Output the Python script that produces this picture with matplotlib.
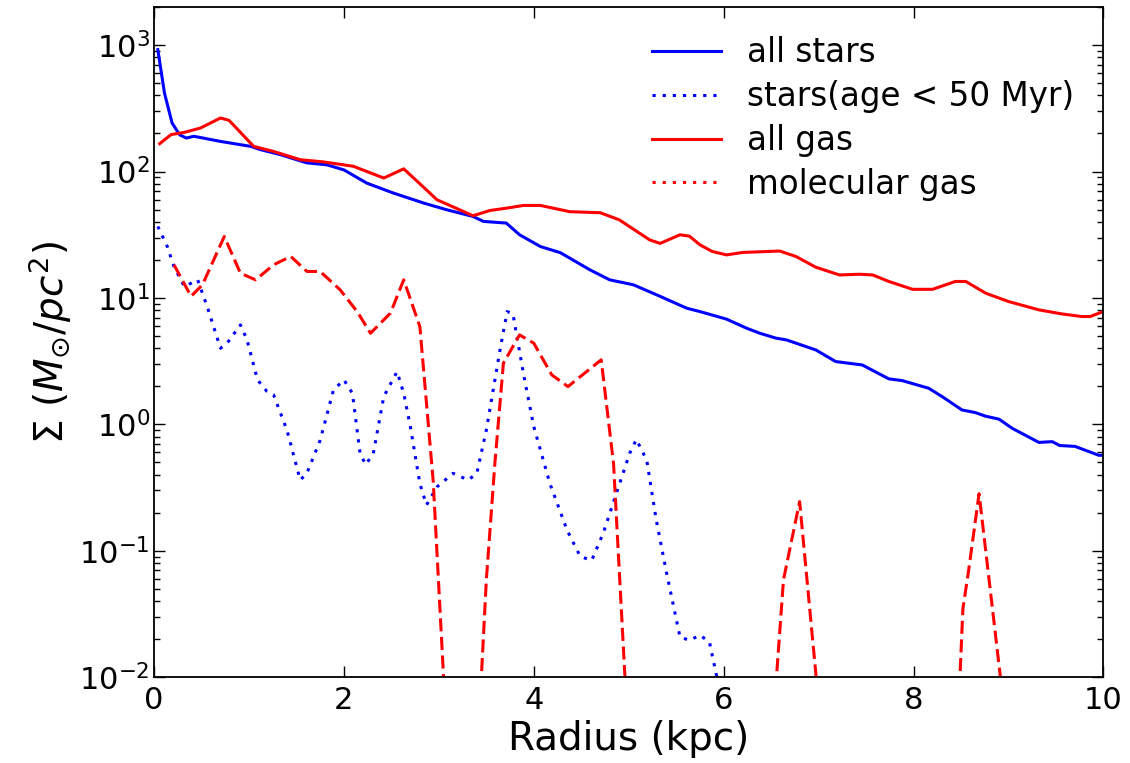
import matplotlib
matplotlib.use("Agg")
import matplotlib.pyplot as plt
from matplotlib.lines import Line2D

# ---- data ----
stars_r = [0.04, 0.11, 0.19, 0.27, 0.34, 0.42, 0.70, 1.02, 1.12, 1.33, 1.61, 1.82, 2.00, 2.24,
           2.52, 2.84, 3.08, 3.36, 3.47, 3.71, 3.85, 4.07, 4.28, 4.59, 4.80, 5.05, 5.33, 5.61,
           5.75, 6.03, 6.24, 6.38, 6.55, 6.66, 6.97, 7.18, 7.46, 7.74, 7.88, 8.16, 8.30, 8.51,
           8.65, 8.76, 8.90, 9.04, 9.32, 9.46, 9.54, 9.70, 9.95, 10.0]
stars_s = [920, 418, 242, 195, 184, 190, 173, 158, 149, 136, 117, 113, 103, 81,
           67.6, 56.3, 49.9, 44.1, 40.3, 39.1, 31.6, 25.5, 22.8, 16.7, 13.9, 12.7, 10.3, 8.3,
           7.8, 6.8, 5.77, 5.26, 4.81, 4.66, 3.88, 3.14, 2.95, 2.29, 2.22, 1.93, 1.66, 1.30,
           1.24, 1.16, 1.10, 0.93, 0.72, 0.73, 0.68, 0.67, 0.57, 0.57]

young_r = [0.04, 0.14, 0.21, 0.32, 0.46, 0.56, 0.70, 0.77, 0.91, 0.98, 1.09, 1.19, 1.26, 1.40,
           1.54, 1.61, 1.75, 1.89, 2.00, 2.09, 2.17, 2.23, 2.31, 2.42, 2.56, 2.63, 2.70, 2.80,
           2.87, 2.98, 3.15, 3.31, 3.40, 3.50, 3.65, 3.72, 3.78, 3.89, 4.00, 4.17, 4.35, 4.49,
           4.61, 4.73, 4.87, 5.01, 5.08, 5.19, 5.29, 5.40, 5.54, 5.64, 5.75, 5.85, 5.92, 6.00]
young_s = [36.8, 25.5, 17.7, 12.3, 13.9, 8.55, 4.0, 4.39, 6.12, 4.66, 2.25, 1.82, 1.71, 0.90,
           0.363, 0.41, 0.75, 1.87, 2.25, 1.76, 0.59, 0.48, 0.59, 1.66, 2.61, 1.76, 0.96, 0.34,
           0.23, 0.32, 0.41, 0.363, 0.41, 0.90, 4.12, 7.8, 7.5, 2.54, 0.96, 0.34, 0.146, 0.090,
           0.084, 0.137, 0.285, 0.59, 0.76, 0.52, 0.175, 0.066, 0.0208, 0.0196, 0.0215, 0.019, 0.0107, 0.006]

gas_r = [0.06, 0.18, 0.32, 0.49, 0.70, 0.79, 1.05, 1.26, 1.54, 1.79, 2.10, 2.42, 2.63, 2.80,
         2.98, 3.36, 3.54, 3.72, 3.89, 4.07, 4.38, 4.70, 4.90, 5.22, 5.33, 5.54, 5.64, 5.75,
         5.88, 6.03, 6.20, 6.59, 6.76, 6.97, 7.22, 7.43, 7.57, 7.74, 7.99, 8.20, 8.44, 8.55,
         8.76, 9.00, 9.32, 9.56, 9.77, 9.86, 9.97, 10.0]
gas_s = [166, 196, 204, 221, 265, 254, 158, 144, 124, 119, 110, 88.8, 105, 80,
         59.8, 44.7, 49.2, 51.4, 53.9, 53.9, 48.1, 47.2, 41.5, 28.8, 27, 31.6, 30.8, 26.3,
         23.3, 21.9, 22.9, 23.5, 21.3, 17.5, 15.2, 15.4, 15.2, 13.5, 11.7, 11.7, 13.5, 13.5,
         10.9, 9.37, 8.05, 7.48, 7.13, 7.13, 7.66, 7.8]

mol_r = [0.21, 0.39, 0.51, 0.74, 0.91, 1.07, 1.26, 1.44, 1.61, 1.75, 1.96, 2.14, 2.28, 2.49,
         2.63, 2.80, 2.94, 3.11, 3.40, 3.50, 3.59, 3.68, 3.85, 4.00, 4.19, 4.36, 4.71, 4.84,
         5.01, 6.46, 6.63, 6.80, 6.98, 8.40, 8.52, 8.58, 8.69, 8.93, 10.0]
mol_s = [18.3, 10.3, 12.7, 30.6, 15.7, 13.9, 18.3, 21.3, 16.2, 16.2, 11.6, 7.8, 5.26, 7.58,
         13.9, 5.94, 0.36, 0.0014, 0.002, 0.0586, 0.49, 3.05, 5.1, 4.39, 2.46, 1.99, 3.24, 0.49,
         0.002, 0.001, 0.059, 0.245, 0.009, 0.0003, 0.035, 0.07, 0.283, 0.008, 0.0005]

labels = ["all stars", "stars(age < 50 Myr)", "all gas", "molecular gas"]

plt.rcParams['lines.scale_dashes'] = False

fig = plt.figure(figsize=(11.3, 7.63), dpi=100)
ax = fig.add_axes([0.1363, 0.1124, 0.8402, 0.8784])

lw = 2.2
dot = (2.3, 5.0)
dash = (9.4, 4.0)
ax.plot(stars_r, stars_s, color='blue', lw=lw, solid_joinstyle='round')
ax.plot(young_r, young_s, color='blue', lw=lw, dashes=dot, dash_capstyle='butt')
ax.plot(gas_r, gas_s, color='red', lw=lw, solid_joinstyle='round')
ax.plot(mol_r, mol_s, color='red', lw=lw, dashes=dash, dash_capstyle='butt')

ax.set_yscale('log')
ax.set_xlim(0, 10)
ax.set_ylim(1e-2, 2e3)
ax.set_xticks([0, 2, 4, 6, 8, 10])

ax.tick_params(which='both', direction='in', top=True, right=True, labelsize=22)
ax.tick_params(which='major', length=8, width=1.0)
ax.tick_params(axis='x', which='major', pad=6)
ax.tick_params(axis='y', which='major', pad=3)
ax.tick_params(which='minor', length=4.5, width=1.0)
ax.tick_params(axis='x', which='minor', bottom=False, top=False)
for s in ax.spines.values():
    s.set_linewidth(1.3)

ax.set_xlabel('Radius (kpc)', fontsize=28)
ax.set_ylabel(r'$\Sigma\ (M_{\odot}/pc^2)$', fontsize=28)

handles = [Line2D([], [], color='blue', lw=lw),
           Line2D([], [], color='blue', lw=lw, dashes=dot, dash_capstyle='butt'),
           Line2D([], [], color='red', lw=lw),
           Line2D([], [], color='red', lw=lw, dashes=dot, dash_capstyle='butt')]
ax.legend(handles, labels, loc='upper right', frameon=False, fontsize=23.5,
          labelspacing=0.33, handlelength=2.1, handletextpad=0.8)

fig.savefig('out.png', dpi=100)
